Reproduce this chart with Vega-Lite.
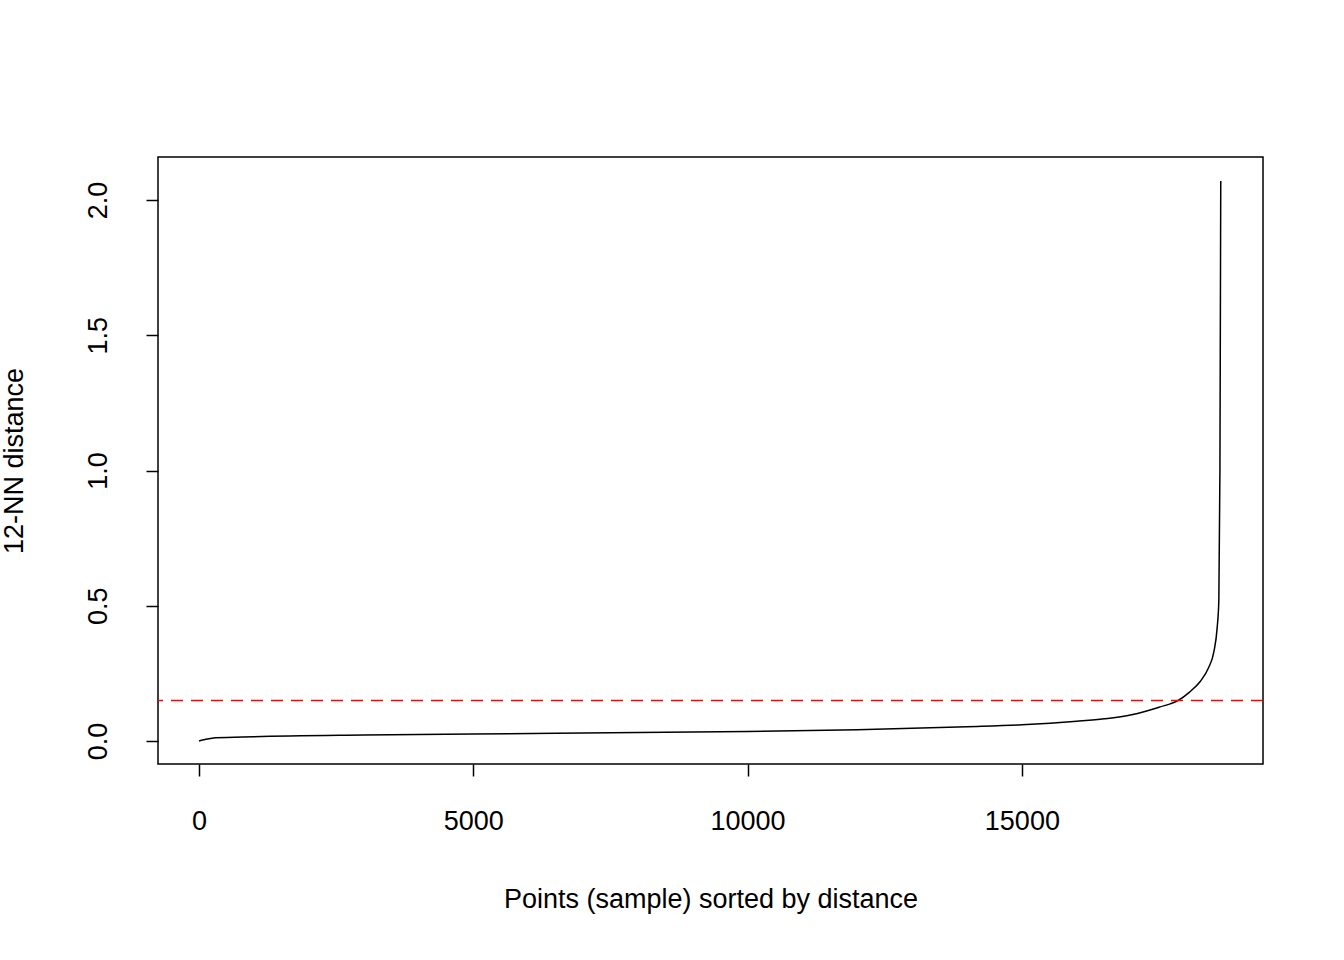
{
  "$schema": "https://vega.github.io/schema/vega-lite/v6.json",
  "autosize": "none",
  "width": 1105,
  "height": 607,
  "padding": {"left": 158, "top": 157, "right": 81, "bottom": 196},
  "background": "white",
  "config": {
    "view": {"stroke": "black", "strokeWidth": 1.5},
    "font": "Liberation Sans",
    "axis": {
      "grid": false, "domain": false, "tickColor": "black", "tickSize": 12, "tickWidth": 1.5,
      "labelFontSize": 27, "titleFontSize": 27, "labelColor": "black", "titleColor": "black",
      "titleFontWeight": "normal"
    }
  },
  "layer": [
    {
      "data": {"values": [
        {"x": 1, "y": 0}, {"x": 50, "y": 0.003}, {"x": 100, "y": 0.005}, {"x": 300, "y": 0.012},
        {"x": 1000, "y": 0.016}, {"x": 3000, "y": 0.022}, {"x": 5000, "y": 0.026}, {"x": 8000, "y": 0.031},
        {"x": 10000, "y": 0.035}, {"x": 12000, "y": 0.042}, {"x": 14000, "y": 0.053}, {"x": 15000, "y": 0.06},
        {"x": 16000, "y": 0.073}, {"x": 16500, "y": 0.082}, {"x": 17000, "y": 0.097}, {"x": 17500, "y": 0.125},
        {"x": 17850, "y": 0.15}, {"x": 18050, "y": 0.18}, {"x": 18250, "y": 0.22}, {"x": 18400, "y": 0.27},
        {"x": 18500, "y": 0.33}, {"x": 18560, "y": 0.42}, {"x": 18590, "y": 0.52}, {"x": 18610, "y": 1.0},
        {"x": 18625, "y": 2.07}
      ]},
      "mark": {"type": "line", "color": "black", "strokeWidth": 1.5, "interpolate": "monotone"},
      "encoding": {
        "x": {"field": "x", "type": "quantitative", "title": "Points (sample) sorted by distance",
          "scale": {"domain": [-747, 19395], "nice": false, "zero": false},
          "axis": {"values": [0, 5000, 10000, 15000], "format": "d", "labelPadding": 32, "titlePadding": 52}},
        "y": {"field": "y", "type": "quantitative", "title": "12-NN distance",
          "scale": {"domain": [-0.085, 2.159], "nice": false, "zero": false},
          "axis": {"values": [0, 0.5, 1, 1.5, 2], "format": ".1f", "labelAngle": -90,
            "labelAlign": "center", "labelBaseline": "bottom", "labelPadding": 34, "titlePadding": 56}}
      }
    },
    {
      "data": {"values": [{"y": 0.15}]},
      "mark": {"type": "rule", "color": "#ff0000", "strokeWidth": 1.5, "strokeDash": [12, 8]},
      "encoding": {"y": {"field": "y", "type": "quantitative"}}
    }
  ]
}
